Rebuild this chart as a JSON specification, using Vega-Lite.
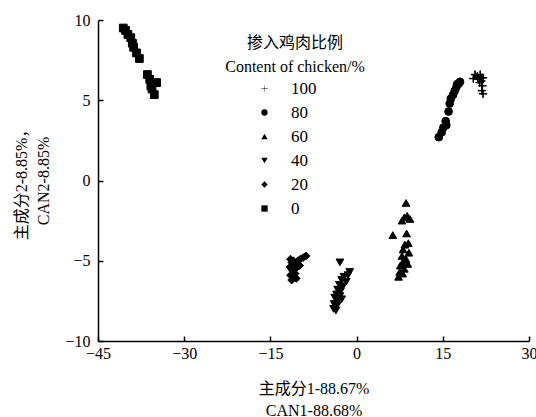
{
  "$schema": "https://vega.github.io/schema/vega-lite/v6.json",
  "autosize": {"type": "none"},
  "width": 431,
  "height": 321,
  "padding": {"left": 98, "top": 20, "right": 7, "bottom": 76},
  "background": "white",
  "config": {
    "view": {"stroke": null},
    "font": "Liberation Serif",
    "axis": {
      "grid": false,
      "domainColor": "black",
      "domainWidth": 1.5,
      "tickColor": "black",
      "tickWidth": 1.5,
      "tickSize": -5,
      "labelFlush": false,
      "labelFont": "Liberation Serif",
      "labelFontSize": 16,
      "labelColor": "black",
      "titleFont": "Liberation Serif, Noto Sans CJK SC",
      "titleFontSize": 16,
      "titleFontWeight": "normal",
      "titleColor": "black",
      "titleLineHeight": 22
    },
    "legend": {
      "titleFont": "Liberation Serif, Noto Sans CJK SC",
      "titleFontSize": 16,
      "titleFontWeight": "normal",
      "titleColor": "black",
      "titleLineHeight": 24,
      "labelFont": "Liberation Serif",
      "labelFontSize": 17,
      "labelColor": "black",
      "symbolFillColor": "black",
      "symbolStrokeColor": "black",
      "symbolStrokeWidth": 1
    }
  },
  "data": {
    "values": [
      {"x": -40.6, "y": 9.5, "g": "0"}, {"x": -40.2, "y": 9.35, "g": "0"}, {"x": -39.8, "y": 9.1, "g": "0"},
      {"x": -39.3, "y": 8.9, "g": "0"}, {"x": -39.0, "y": 8.55, "g": "0"}, {"x": -38.8, "y": 8.3, "g": "0"},
      {"x": -38.3, "y": 7.95, "g": "0"}, {"x": -37.8, "y": 7.6, "g": "0"}, {"x": -36.4, "y": 6.6, "g": "0"},
      {"x": -36.0, "y": 6.3, "g": "0"}, {"x": -34.8, "y": 6.1, "g": "0"}, {"x": -35.8, "y": 5.9, "g": "0"},
      {"x": -35.6, "y": 5.7, "g": "0"}, {"x": -35.2, "y": 5.35, "g": "0"},

      {"x": -11.5, "y": -4.9, "g": "20"}, {"x": -11.3, "y": -5.1, "g": "20"}, {"x": -11.0, "y": -5.0, "g": "20"},
      {"x": -10.6, "y": -5.2, "g": "20"}, {"x": -10.2, "y": -5.0, "g": "20"}, {"x": -9.8, "y": -4.9, "g": "20"},
      {"x": -9.3, "y": -4.8, "g": "20"}, {"x": -8.8, "y": -4.7, "g": "20"}, {"x": -11.6, "y": -5.4, "g": "20"},
      {"x": -11.2, "y": -5.6, "g": "20"}, {"x": -10.8, "y": -5.5, "g": "20"}, {"x": -10.4, "y": -5.4, "g": "20"},
      {"x": -9.9, "y": -5.3, "g": "20"}, {"x": -11.5, "y": -5.9, "g": "20"}, {"x": -11.0, "y": -6.0, "g": "20"},
      {"x": -10.7, "y": -5.8, "g": "20"}, {"x": -11.3, "y": -6.2, "g": "20"}, {"x": -10.5, "y": -6.1, "g": "20"},

      {"x": -2.9, "y": -5.1, "g": "40"}, {"x": -1.2, "y": -5.7, "g": "40"}, {"x": -1.5, "y": -5.9, "g": "40"},
      {"x": -2.2, "y": -6.0, "g": "40"}, {"x": -2.6, "y": -6.2, "g": "40"}, {"x": -1.8, "y": -6.3, "g": "40"},
      {"x": -3.0, "y": -6.5, "g": "40"}, {"x": -2.4, "y": -6.6, "g": "40"}, {"x": -3.3, "y": -6.8, "g": "40"},
      {"x": -2.8, "y": -6.9, "g": "40"}, {"x": -3.5, "y": -7.1, "g": "40"}, {"x": -2.9, "y": -7.2, "g": "40"},
      {"x": -3.8, "y": -7.3, "g": "40"}, {"x": -3.2, "y": -7.5, "g": "40"}, {"x": -2.6, "y": -7.4, "g": "40"},
      {"x": -3.9, "y": -7.7, "g": "40"}, {"x": -3.4, "y": -7.8, "g": "40"}, {"x": -4.0, "y": -8.0, "g": "40"},
      {"x": -3.6, "y": -8.1, "g": "40"},

      {"x": 8.6, "y": -1.4, "g": "60"}, {"x": 8.3, "y": -2.3, "g": "60"}, {"x": 8.8, "y": -2.2, "g": "60"},
      {"x": 9.3, "y": -2.4, "g": "60"}, {"x": 7.9, "y": -2.5, "g": "60"}, {"x": 6.3, "y": -3.4, "g": "60"},
      {"x": 8.7, "y": -3.3, "g": "60"}, {"x": 9.0, "y": -3.9, "g": "60"}, {"x": 8.4, "y": -4.0, "g": "60"},
      {"x": 8.1, "y": -4.3, "g": "60"}, {"x": 9.1, "y": -4.5, "g": "60"}, {"x": 7.9, "y": -4.7, "g": "60"},
      {"x": 8.6, "y": -4.9, "g": "60"}, {"x": 8.0, "y": -5.1, "g": "60"}, {"x": 8.9, "y": -5.2, "g": "60"},
      {"x": 7.6, "y": -5.3, "g": "60"}, {"x": 8.3, "y": -5.5, "g": "60"}, {"x": 7.5, "y": -5.7, "g": "60"},
      {"x": 8.0, "y": -5.8, "g": "60"}, {"x": 7.3, "y": -6.0, "g": "60"},

      {"x": 14.3, "y": 2.7, "g": "80"}, {"x": 14.8, "y": 3.0, "g": "80"}, {"x": 15.1, "y": 3.3, "g": "80"},
      {"x": 15.6, "y": 3.45, "g": "80"}, {"x": 15.5, "y": 3.7, "g": "80"}, {"x": 16.0, "y": 4.3, "g": "80"},
      {"x": 16.2, "y": 4.8, "g": "80"}, {"x": 16.4, "y": 5.1, "g": "80"}, {"x": 16.8, "y": 5.35, "g": "80"},
      {"x": 17.1, "y": 5.6, "g": "80"}, {"x": 17.4, "y": 5.85, "g": "80"}, {"x": 17.8, "y": 6.05, "g": "80"},
      {"x": 18.0, "y": 6.15, "g": "80"}, {"x": 17.5, "y": 6.0, "g": "80"},

      {"x": 20.6, "y": 6.6, "g": "100"}, {"x": 21.0, "y": 6.5, "g": "100"}, {"x": 21.5, "y": 6.6, "g": "100"},
      {"x": 21.8, "y": 6.4, "g": "100"}, {"x": 20.3, "y": 6.35, "g": "100"}, {"x": 21.2, "y": 6.3, "g": "100"},
      {"x": 21.7, "y": 6.2, "g": "100"}, {"x": 22.0, "y": 6.4, "g": "100"}, {"x": 21.4, "y": 6.1, "g": "100"},
      {"x": 21.9, "y": 5.9, "g": "100"}, {"x": 21.8, "y": 5.6, "g": "100"}, {"x": 22.0, "y": 5.4, "g": "100"},
      {"x": 21.1, "y": 6.4, "g": "100"}
    ]
  },
  "mark": {"type": "point", "filled": true, "fill": "black", "stroke": "black", "strokeWidth": 1, "opacity": 1, "size": 60},
  "encoding": {
    "x": {
      "field": "x", "type": "quantitative",
      "scale": {"domain": [-45, 30], "nice": false, "zero": false},
      "axis": {"values": [-45, -30, -15, 0, 15, 30], "labelPadding": 9, "titlePadding": 19,
               "title": ["主成分1-88.67%", "CAN1-88.68%"]}
    },
    "y": {
      "field": "y", "type": "quantitative",
      "scale": {"domain": [-10, 10], "nice": false, "zero": false},
      "axis": {"values": [-10, -5, 0, 5, 10], "labelPadding": 13, "titlePadding": 13,
               "title": ["主成分2-8.85%，", "CAN2-8.85%"]}
    },
    "shape": {
      "field": "g", "type": "nominal",
      "scale": {
        "domain": ["100", "80", "60", "40", "20", "0"],
        "range": ["M-1,-0.06L1,-0.06L1,0.06L-1,0.06ZM-0.06,-1L0.06,-1L0.06,1L-0.06,1Z", "circle", "triangle-up", "triangle-down", "diamond", "square"]
      },
      "legend": {
        "title": ["掺入鸡肉比例", "Content of chicken/%"],
        "orient": "none",
        "legendX": 127,
        "legendY": 15,
        "titleAnchor": "middle",
        "titleAlign": "center",
        "symbolSize": 40,
        "symbolOffset": -17,
        "labelOffset": 18,
        "rowPadding": 6,
        "padding": 0,
        "encode": {
          "symbols": {
            "update": {
              "stroke": {"value": "black"},
              "strokeWidth": {"value": 1},
              "fill": {"value": "black"}
            }
          }
        }
      }
    }
  }
}
